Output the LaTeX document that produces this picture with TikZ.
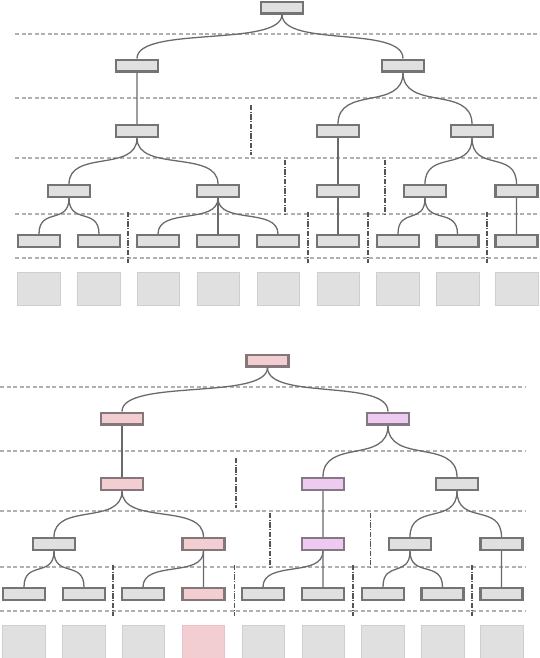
\documentclass[tikz,border=0pt]{standalone}
\usetikzlibrary{calc}

\definecolor{boxgray}{HTML}{E0E0E0}
\definecolor{rimgray}{HTML}{747474}
\definecolor{linkgray}{HTML}{6A6A6A}
\definecolor{levelgray}{HTML}{B0B0B0}
\definecolor{cutgray}{HTML}{555555}
\definecolor{pinkfill}{HTML}{F2CED2}
\definecolor{pinkrim}{HTML}{857779}
\definecolor{lilacfill}{HTML}{EFCAF0}
\definecolor{lilacrim}{HTML}{837884}
\definecolor{tilerim}{HTML}{CFCFCF}
\definecolor{pinktilerim}{HTML}{E8C2C6}

\tikzset{
	box/.style={draw=rimgray, line width=2pt, fill=boxgray, minimum width=1.25cm, minimum height=0.35cm, inner sep=0pt},
	pinkbox/.style={box, draw=pinkrim, fill=pinkfill},
	lilacbox/.style={box, draw=lilacrim, fill=lilacfill},
	tile/.style={draw=tilerim, line width=0.6pt, fill=boxgray, minimum width=1.27cm, minimum height=1.0cm, inner sep=0pt},
	pinktile/.style={tile, draw=pinktilerim, fill=pinkfill},
	level/.style={draw=levelgray, line width=1.7pt, dash pattern=on 3.4pt off 2.2pt},
	cut/.style={draw=cutgray, line width=0.9pt, dash pattern=on 4.3pt off 1.3pt on 1.2pt off 1.3pt},
	link/.style={draw=linkgray, line width=1.1pt}
}

\newcommand{\branch}[2]{\draw[link] (#1.south) .. controls ($(#1.south)!0.75!(#1.south|-#2.north)$) and ($(#2.north)!0.75!(#2.north|-#1.south)$) .. (#2.north);}

\begin{document}
\begin{tikzpicture}[x=0.03cm, y=-0.03cm]
			\useasboundingbox (0, 0) rectangle (540, 658);
			% upper tree
			\draw[level] (15, 34) -- (545, 34);
			\draw[level] (15, 98) -- (545, 98);
			\draw[level] (15, 158) -- (545, 158);
			\draw[level] (15, 214) -- (545, 214);
			\draw[level] (15, 258) -- (545, 258);
			\draw[cut] (251, 105) -- (251, 155);
			\draw[cut] (285, 160) -- (285, 215);
			\draw[cut] (385, 160) -- (385, 215);
			\draw[cut] (128, 212) -- (128, 263);
			\draw[cut] (308, 212) -- (308, 263);
			\draw[cut] (368, 212) -- (368, 263);
			\draw[cut] (487, 212) -- (487, 263);
			\node[box] (upR) at (282, 7.5) {};
			\node[box] (upA) at (137, 65.5) {};
			\node[box] (upB) at (403, 65.5) {};
			\node[box] (upAA) at (137, 131) {};
			\node[box] (upBA) at (338, 131) {};
			\node[box] (upBB) at (472, 131) {};
			\node[box] (upAAA) at (69, 191) {};
			\node[box] (upAAB) at (218, 191) {};
			\node[box] (upBAA) at (338, 191) {};
			\node[box] (upBBA) at (425, 191) {};
			\node[box] (upBBB) at (516.5, 191) {};
			\node[box] (upL1) at (39, 241) {};
			\node[box] (upL2) at (99, 241) {};
			\node[box] (upL3) at (158, 241) {};
			\node[box] (upL4) at (218, 241) {};
			\node[box] (upL5) at (278, 241) {};
			\node[box] (upL6) at (338, 241) {};
			\node[box] (upL7) at (398, 241) {};
			\node[box] (upL8) at (457.5, 241) {};
			\node[box] (upL9) at (516.5, 241) {};
			\node[tile] (upS1) at (39, 289) {};
			\node[tile] (upS2) at (99, 289) {};
			\node[tile] (upS3) at (158.5, 289) {};
			\node[tile] (upS4) at (218.5, 289) {};
			\node[tile] (upS5) at (278.5, 289) {};
			\node[tile] (upS6) at (338.5, 289) {};
			\node[tile] (upS7) at (398, 289) {};
			\node[tile] (upS8) at (458, 289) {};
			\node[tile] (upS9) at (517, 289) {};
			\branch{upR}{upA}
			\branch{upR}{upB}
			\branch{upA}{upAA}
			\branch{upB}{upBA}
			\branch{upB}{upBB}
			\branch{upAA}{upAAA}
			\branch{upAA}{upAAB}
			\branch{upBA}{upBAA}
			\branch{upBB}{upBBA}
			\branch{upBB}{upBBB}
			\branch{upAAA}{upL1}
			\branch{upAAA}{upL2}
			\branch{upAAB}{upL3}
			\branch{upAAB}{upL4}
			\branch{upAAB}{upL5}
			\branch{upBAA}{upL6}
			\branch{upBBA}{upL7}
			\branch{upBBA}{upL8}
			\branch{upBBB}{upL9}
			% lower tree
			\draw[level] (0, 387) -- (525, 387);
			\draw[level] (0, 451) -- (525, 451);
			\draw[level] (0, 511) -- (525, 511);
			\draw[level] (0, 567) -- (525, 567);
			\draw[level] (0, 611) -- (525, 611);
			\draw[cut] (236, 458) -- (236, 508);
			\draw[cut] (270, 513) -- (270, 568);
			\draw[cut] (370.5, 513) -- (370.5, 568);
			\draw[cut] (113, 565) -- (113, 616);
			\draw[cut] (234.5, 565) -- (234.5, 616);
			\draw[cut] (353, 565) -- (353, 616);
			\draw[cut] (472, 565) -- (472, 616);
			\node[pinkbox] (loR) at (267.5, 360.5) {};
			\node[pinkbox] (loA) at (122, 418.5) {};
			\node[lilacbox] (loB) at (388, 418.5) {};
			\node[pinkbox] (loAA) at (122, 484) {};
			\node[lilacbox] (loBA) at (323, 484) {};
			\node[box] (loBB) at (457, 484) {};
			\node[box] (loAAA) at (54, 544) {};
			\node[pinkbox] (loAAB) at (203.5, 544) {};
			\node[lilacbox] (loBAA) at (323, 544) {};
			\node[box] (loBBA) at (410, 544) {};
			\node[box] (loBBB) at (501.5, 544) {};
			\node[box] (loL1) at (24, 594) {};
			\node[box] (loL2) at (84, 594) {};
			\node[box] (loL3) at (143, 594) {};
			\node[pinkbox] (loL4) at (203.5, 594) {};
			\node[box] (loL5) at (263, 594) {};
			\node[box] (loL6) at (323, 594) {};
			\node[box] (loL7) at (383, 594) {};
			\node[box] (loL8) at (442.5, 594) {};
			\node[box] (loL9) at (501.5, 594) {};
			\node[tile] (loS1) at (24, 642) {};
			\node[tile] (loS2) at (84, 642) {};
			\node[tile] (loS3) at (143.5, 642) {};
			\node[pinktile] (loS4) at (203.5, 642) {};
			\node[tile] (loS5) at (263.5, 642) {};
			\node[tile] (loS6) at (323.5, 642) {};
			\node[tile] (loS7) at (383, 642) {};
			\node[tile] (loS8) at (443, 642) {};
			\node[tile] (loS9) at (502, 642) {};
			\branch{loR}{loA}
			\branch{loR}{loB}
			\branch{loA}{loAA}
			\branch{loB}{loBA}
			\branch{loB}{loBB}
			\branch{loAA}{loAAA}
			\branch{loAA}{loAAB}
			\branch{loBA}{loBAA}
			\branch{loBB}{loBBA}
			\branch{loBB}{loBBB}
			\branch{loAAA}{loL1}
			\branch{loAAA}{loL2}
			\branch{loAAB}{loL3}
			\branch{loAAB}{loL4}
			\branch{loBAA}{loL5}
			\branch{loBAA}{loL6}
			\branch{loBBA}{loL7}
			\branch{loBBA}{loL8}
			\branch{loBBB}{loL9}
		\end{tikzpicture}
\end{document}
